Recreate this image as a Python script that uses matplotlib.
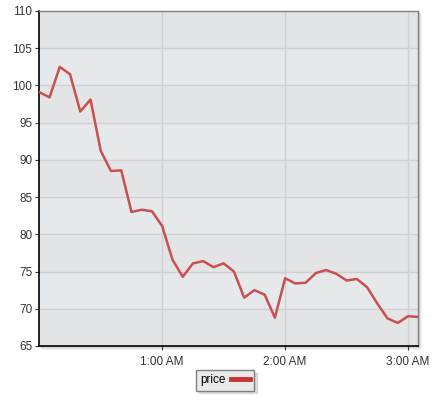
import datetime as dt
import matplotlib
matplotlib.use("Agg")
import matplotlib.pyplot as plt
import matplotlib.dates as mdates
from matplotlib.patches import Rectangle

plt.rcParams['font.family'] = ['Liberation Sans', 'DejaVu Sans']

# price every 5 minutes starting at midnight
start = dt.datetime(2020, 1, 1, 0, 0)
step_min = 5
price = [99.1, 98.4, 102.5, 101.5, 96.5, 98.1, 91.2, 88.5, 88.6, 83.0,
         83.3, 83.1, 81.1, 76.6, 74.3, 76.1, 76.4, 75.6, 76.1, 75.0,
         71.5, 72.5, 71.9, 68.8, 74.1, 73.4, 73.5, 74.8, 75.2, 74.7,
         73.8, 74.0, 72.9, 70.7, 68.7, 68.1, 69.0, 68.9]
times = [start + dt.timedelta(minutes=step_min * i) for i in range(len(price))]
y_ticks = [65, 70, 75, 80, 85, 90, 95, 100, 105, 110]

fig = plt.figure(figsize=(4.4, 4.0), dpi=100)
L, B, W, H = 39.3 / 440, 54 / 400, 379 / 440, 335 / 400
ax = fig.add_axes([L, B, W, H])
ax.set_zorder(5)

# soft shadow under the plot area
for k, a in [(3, 0.03), (2, 0.04), (1, 0.06)]:
    fig.patches.append(Rectangle((L + k / 440, B - k / 400), W, H,
                                 transform=fig.transFigure, color='black', alpha=a, zorder=0))

ax.set_facecolor('#e3e4e6')
for i in range(len(y_ticks) - 1):
    c = '#e3e4e6' if (len(y_ticks) - 2 - i) % 2 == 0 else '#e6e9ec'
    ax.axhspan(y_ticks[i], y_ticks[i + 1], color=c, zorder=0, lw=0)

ax.plot(times, price, color='#c9504f', lw=1.8, zorder=3, label='price')

ax.set_ylim(65, 110)
ax.set_yticks(y_ticks)
ax.set_xlim(times[0], times[-1])
ax.xaxis.set_major_locator(mdates.HourLocator(byhour=[1, 2, 3]))
ax.xaxis.set_major_formatter(mdates.DateFormatter('%-I:%M %p'))
ax.grid(True, color='#d0d0d0', lw=1, zorder=1)
ax.set_axisbelow(True)

for s in ['top', 'right']:
    ax.spines[s].set_color('#808080')
    ax.spines[s].set_linewidth(1)
for s in ['left', 'bottom']:
    ax.spines[s].set_color('black')
    ax.spines[s].set_linewidth(1.2)
ax.tick_params(axis='both', labelsize=8.5, colors='#333333', length=3, width=0.8)
ax.tick_params(axis='y', pad=2)
ax.tick_params(axis='x', pad=4)

leg = ax.legend(loc='upper center', bbox_to_anchor=(0.49, -0.055), frameon=True, fontsize=8.5,
                handlelength=1.6, markerfirst=False, fancybox=False,
                shadow={'color': '#d8d8d8', 'alpha': 1},
                borderpad=0.35, handletextpad=0.5)
leg.get_frame().set_edgecolor('#808080')
leg.get_frame().set_facecolor('#eaeaea')
for line in leg.get_lines():
    line.set_linewidth(3.5)
    line.set_color('#cc3333')

fig.savefig('out.png', dpi=100)
